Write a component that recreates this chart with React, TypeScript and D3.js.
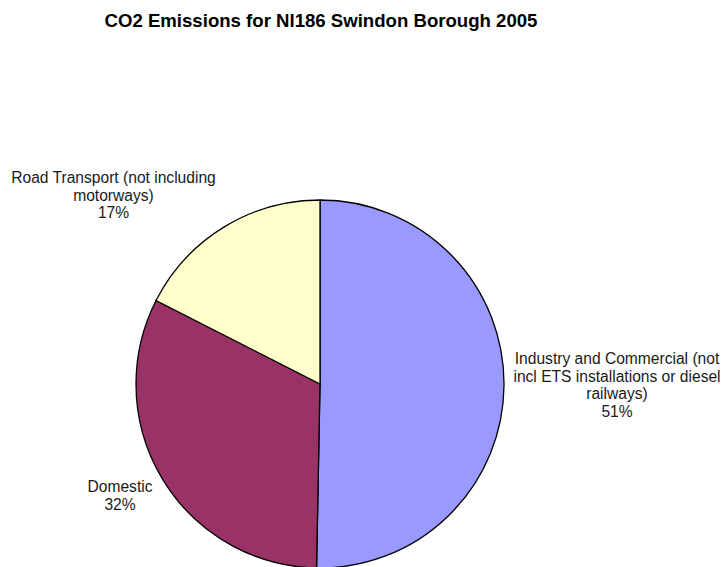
import React from "react";
import * as d3 from "d3";

const categories = [
  "Industry and Commercial (not incl ETS installations or diesel railways)",
  "Domestic",
  "Road Transport (not including motorways)",
];
const values = [50.3, 32.2, 17.5];
const percentLabels = ["51%", "32%", "17%"];
const colors = ["#9999FF", "#993366", "#FFFFCC"];
const labelLines = [
  ["Industry and Commercial (not", "incl ETS installations or diesel", "railways)"],
  ["Domestic"],
  ["Road Transport (not including", "motorways)"],
];
const labelPos = [
  { x: 617, y: 364 },
  { x: 120, y: 492 },
  { x: 113.5, y: 183 },
];

export default function App() {
  const W = 724, H = 567;
  const cx = 320, cy = 384, r = 184;
  const pie = d3.pie<number>().sort(null).value((d) => d)(values);
  const arc = d3.arc<d3.PieArcDatum<number>>().innerRadius(0).outerRadius(r);
  return (
    <svg width={W} height={H} style={{ position: "absolute", left: 0, top: 0 }} fontFamily="Liberation Sans, Arial, sans-serif">
      <rect width={W} height={H} fill="#fff" />
      <text x={321} y={27} textAnchor="middle" fontWeight="bold" fontSize={18.6}>
        CO2 Emissions for NI186 Swindon Borough 2005
      </text>
      <g transform={`translate(${cx},${cy})`}>
        {pie.map((p, i) => (
          <path key={i} d={arc(p) || ""} fill={colors[i]} stroke="#000" strokeWidth={1.3} />
        ))}
      </g>
      {labelLines.map((lines, i) => (
        <text key={i} textAnchor="middle" fontSize={15.6} fill="#1a1a1a">
          {[...lines, percentLabels[i]].map((l, j) => (
            <tspan key={j} x={labelPos[i].x} y={labelPos[i].y + j * 17.7}>{l}</tspan>
          ))}
        </text>
      ))}
    </svg>
  );
}
